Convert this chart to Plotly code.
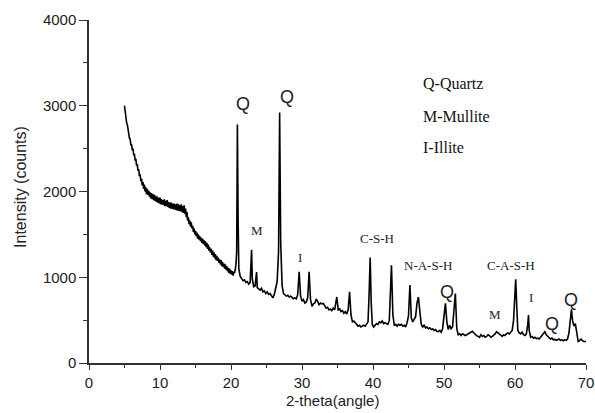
import plotly.graph_objects as go

two_theta = [
    5.0, 5.1, 5.2, 5.3, 5.4, 5.5, 5.6, 5.7, 5.8, 5.9, 6.0, 6.1, 6.2, 6.3, 6.4, 6.5, 6.6, 6.7, 6.8, 6.9,
    7.0, 7.1, 7.2, 7.3, 7.4, 7.5, 7.6, 7.7, 7.8, 7.9, 8.0, 8.1, 8.2, 8.3, 8.4, 8.5, 8.6, 8.7, 8.8, 8.9,
    9.0, 9.1, 9.2, 9.3, 9.4, 9.5, 9.6, 9.7, 9.8, 9.9, 10.0, 10.1, 10.2, 10.3, 10.4, 10.5, 10.6, 10.7, 10.8, 10.9,
    11.0, 11.1, 11.2, 11.3, 11.4, 11.5, 11.6, 11.7, 11.8, 11.9, 12.0, 12.1, 12.2, 12.3, 12.4, 12.5, 12.6, 12.7, 12.8, 12.9,
    13.0, 13.1, 13.2, 13.3, 13.4, 13.5, 13.6, 13.7, 13.8, 13.9, 14.0, 14.1, 14.2, 14.3, 14.4, 14.5, 14.6, 14.7, 14.8, 14.9,
    15.0, 15.1, 15.2, 15.3, 15.4, 15.5, 15.6, 15.7, 15.8, 15.9, 16.0, 16.1, 16.2, 16.3, 16.4, 16.5, 16.6, 16.7, 16.8, 16.9,
    17.0, 17.1, 17.2, 17.3, 17.4, 17.5, 17.6, 17.7, 17.8, 17.9, 18.0, 18.1, 18.2, 18.3, 18.4, 18.5, 18.6, 18.7, 18.8, 18.9,
    19.0, 19.1, 19.2, 19.3, 19.4, 19.5, 19.6, 19.7, 19.8, 19.9, 20.0, 20.1, 20.2, 20.3, 20.4, 20.5, 20.6, 20.7, 20.8,
    20.9, 21.0, 21.1, 21.3, 21.5, 21.7, 21.9, 22.1, 22.3,
    22.5, 22.7, 22.9, 23.0, 23.2, 23.4, 23.6, 23.7, 23.9, 24.1, 24.3, 24.5, 24.7, 24.9, 25.1, 25.3, 25.5,
    25.7, 25.9, 26.1, 26.3, 26.5, 26.7, 26.85, 27.0, 27.1, 27.2, 27.4, 27.6, 27.8, 28.0, 28.2, 28.4, 28.6,
    28.8, 29.0, 29.2, 29.4, 29.6, 29.8, 30.0, 30.2, 30.4, 30.6, 30.8, 31.0, 31.2, 31.4, 31.6, 31.8, 32.0,
    32.2, 32.4, 32.6, 32.8, 33.0, 33.2, 33.4, 33.6, 33.8, 34.0, 34.2, 34.4, 34.6, 34.9, 35.1, 35.3, 35.5,
    35.7, 35.9, 36.1, 36.3, 36.5, 36.7, 36.9, 37.1, 37.3, 37.5, 37.7, 37.9, 38.1, 38.3, 38.5, 38.7, 38.9,
    39.1, 39.3, 39.45, 39.6, 39.75, 39.9, 40.1, 40.3, 40.5, 40.7, 40.9, 41.1, 41.3, 41.5, 41.7, 41.9, 42.1,
    42.3, 42.6, 42.8, 43.0, 43.2, 43.4, 43.6, 43.8, 44.0, 44.2, 44.4, 44.6, 44.8, 45.0, 45.2, 45.4, 45.6,
    45.8, 46.0, 46.2, 46.4, 46.6, 46.8, 47.0, 47.2, 47.4, 47.6, 47.8, 48.0, 48.2, 48.4, 48.6, 48.8, 49.0,
    49.2, 49.4, 49.6, 49.8, 50.0, 50.2, 50.4, 50.6, 50.8, 51.0, 51.2, 51.4, 51.6, 51.8, 52.0, 52.2, 52.4,
    52.6, 52.8, 53.0, 53.2, 53.4, 53.6, 53.8, 54.0, 54.2, 54.4, 54.6, 54.8, 55.0, 55.2, 55.4, 55.6, 55.8,
    56.0, 56.2, 56.4, 56.6, 56.8, 57.0, 57.2, 57.4, 57.6, 57.8, 58.0, 58.2, 58.4, 58.6, 58.8, 59.0, 59.2,
    59.4, 59.6, 59.8, 60.0, 60.1, 60.25, 60.4, 60.6, 60.8, 61.0, 61.2, 61.4, 61.6, 61.8, 61.9, 62.0, 62.2,
    62.4, 62.6, 62.8, 63.0, 63.2, 63.4, 63.6, 63.8, 64.0, 64.2, 64.4, 64.6, 64.8, 65.0, 65.2, 65.4, 65.6,
    65.8, 66.0, 66.2, 66.4, 66.6, 66.8, 67.0, 67.2, 67.4, 67.6, 67.8, 67.95, 68.1, 68.3, 68.5, 68.7, 68.9,
    69.1, 69.3, 69.5, 69.7, 70.0,
]

intensity = [
    3000, 2910, 2890, 2800, 2780, 2700, 2690, 2620, 2610, 2540, 2550, 2480, 2500, 2420, 2440, 2360, 2380, 2300, 2320, 2240,
    2260, 2180, 2200, 2120, 2150, 2070, 2110, 2030, 2080, 2000, 2050, 1970, 2030, 1960, 2010, 1940, 1990, 1920, 1980, 1910,
    1970, 1900, 1960, 1890, 1950, 1880, 1940, 1870, 1930, 1860, 1930, 1850, 1910, 1850, 1900, 1840, 1910, 1830, 1890, 1830,
    1900, 1820, 1880, 1810, 1870, 1800, 1870, 1800, 1860, 1790, 1860, 1790, 1850, 1780, 1860, 1780, 1850, 1770, 1840, 1770,
    1850, 1760, 1830, 1750, 1840, 1740, 1800, 1700, 1760, 1660, 1700, 1620, 1660, 1590, 1640, 1570, 1600, 1530, 1570, 1500,
    1540, 1480, 1520, 1450, 1500, 1440, 1480, 1420, 1460, 1400, 1450, 1390, 1430, 1370, 1420, 1350, 1400, 1330, 1380, 1310,
    1350, 1290, 1330, 1260, 1310, 1240, 1290, 1220, 1270, 1200, 1250, 1190, 1230, 1170, 1210, 1150, 1200, 1130, 1180, 1120,
    1160, 1100, 1150, 1090, 1130, 1070, 1110, 1050, 1100, 1040, 1080, 1030, 1070, 1020, 1060, 1050, 1090, 1150, 1300,
    2780, 1700, 1100, 1010, 980, 960, 970, 940, 950,
    920, 940, 1320, 980, 890, 900, 1060, 880, 860, 850, 870, 830, 840, 810, 830, 800, 810,
    780, 760, 800, 900, 950, 1300, 2920, 1400, 1120, 900, 810, 800, 780, 790, 770, 780, 760,
    750, 760, 750, 800, 1065, 780, 720, 740, 700, 710, 760, 1065, 740, 660, 690, 700, 740,
    720, 680, 700, 690, 695, 660, 640, 650, 620, 630, 610, 640, 620, 770, 620, 630, 600,
    610, 580, 600, 570, 620, 830, 560, 480, 490, 470, 440, 430, 440, 420, 430, 440, 430,
    450, 480, 800, 1230, 700, 450, 420, 440, 460, 450, 480, 470, 490, 460, 470, 460, 450,
    500, 1140, 560, 440, 450, 430, 450, 440, 450, 430, 440, 420, 470, 550, 910, 520, 480,
    510, 540, 700, 770, 600, 450, 420, 440, 410, 420, 400, 410, 390, 400, 380, 390, 370,
    365, 380, 360, 400, 550, 695, 480, 390, 440, 400, 420, 600, 810, 400, 330, 340, 320,
    340, 330, 320, 330, 340, 350, 360, 370, 350, 330, 320, 310, 300, 330, 310, 320, 300,
    310, 330, 320, 300, 310, 320, 340, 365, 350, 330, 320, 310, 330, 320, 340, 350, 340,
    360, 380, 500, 800, 975, 650, 380, 350, 340, 360, 330, 320, 340, 450, 560, 380, 300,
    310, 290, 300, 285, 290, 280, 300, 320, 340, 365, 330, 310, 290, 280, 290, 270, 275,
    265, 270, 280, 265, 270, 260, 270, 265, 280, 350, 560, 626, 500, 430, 460, 320, 250,
    260, 280, 260, 250, 250,
]

x_ticks = [0, 10, 20, 30, 40, 50, 60, 70]
y_ticks = [0, 1000, 2000, 3000, 4000]

peak_labels = ["Q", "Q", "M", "I", "C-S-H", "N-A-S-H", "Q", "C-A-S-H", "I", "M", "Q", "Q"]
peak_label_x = [21.7, 27.9, 23.6, 29.7, 40.6, 47.8, 50.4, 59.5, 62.2, 57.2, 65.2, 67.9]
peak_label_y = [3020, 3100, 1545, 1225, 1455, 1135, 830, 1135, 765, 570, 450, 735]

legend_lines = ["Q-Quartz", "M-Mullite", "I-Illite"]
legend_y = [3260, 2872, 2511]

fig = go.Figure()
fig.add_trace(go.Scatter(x=two_theta, y=intensity, mode="lines",
                         line=dict(color="black", width=1.6), showlegend=False))

serif = "Liberation Serif, Times New Roman, serif"
sans = "Liberation Sans, Arial, sans-serif"

for lab, lx, ly in zip(peak_labels, peak_label_x, peak_label_y):
    if lab == "Q":
        fnt = dict(family=sans, size=18, color="#222")
    else:
        fnt = dict(family=serif, size=13, color="#222")
    fig.add_annotation(x=lx, y=ly, text=lab, showarrow=False, font=fnt,
                       xanchor="center", yanchor="middle")

for lab, ly in zip(legend_lines, legend_y):
    fig.add_annotation(x=46.8, y=ly, text=lab, showarrow=False,
                       font=dict(family=serif, size=16, color="#111"),
                       xanchor="left", yanchor="middle")

# axis titles
fig.add_annotation(xref="paper", yref="paper", x=0.489, y=-0.108, text="2-theta(angle)",
                   showarrow=False, font=dict(family=sans, size=15, color="#222"),
                   xanchor="center", yanchor="middle")
fig.add_annotation(xref="paper", yref="paper", x=-0.139, y=0.513, text="Intensity (counts)",
                   showarrow=False, textangle=-90, font=dict(family=sans, size=16, color="#222"),
                   xanchor="center", yanchor="middle")

axis_common = dict(showline=True, linecolor="#333", linewidth=1.5, ticks="outside",
                   tickcolor="#333", tickwidth=1.2, showgrid=False, zeroline=False,
                   automargin=False,
                   tickfont=dict(family=sans, size=15, color="#222"))

fig.update_xaxes(range=[0, 70], tickvals=x_ticks, ticklen=5,
                 minor=dict(ticks="outside", dtick=5, ticklen=3, tickcolor="#333", showgrid=False),
                 **axis_common)
fig.update_yaxes(range=[0, 4000], tickvals=y_ticks, ticklen=8,
                 minor=dict(ticks="outside", dtick=500, ticklen=4, tickcolor="#333", showgrid=False),
                 **axis_common)

fig.update_layout(width=595, height=413, margin=dict(l=89, r=9, t=20, b=50),
                  plot_bgcolor="white", paper_bgcolor="white")

fig.write_html("out.html", config={"displayModeBar": False},
               post_script="document.body.style.margin='0';document.body.style.padding='0';")
